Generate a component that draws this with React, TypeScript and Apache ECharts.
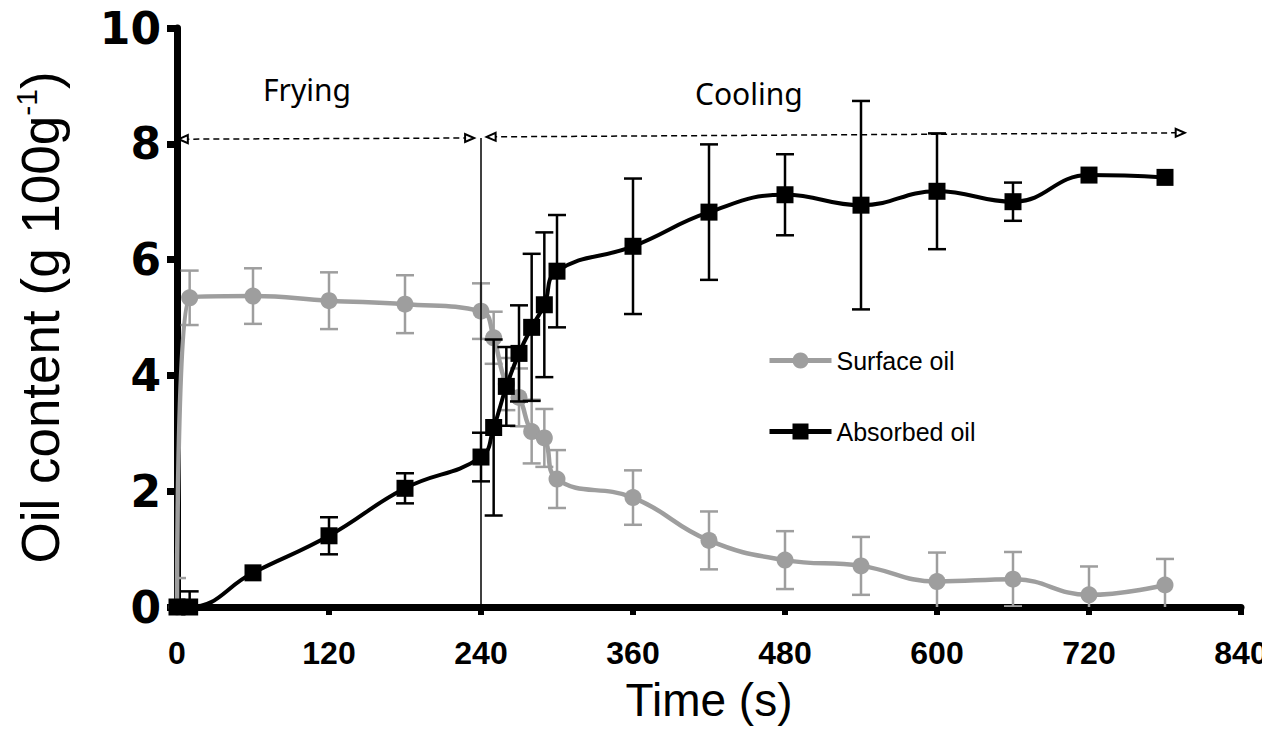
import React, { useEffect, useRef } from "react";
import * as echarts from "echarts";

// ---- data ----
const timeS = [0, 10, 60, 120, 180, 240, 250, 260, 270, 280, 290, 300, 360, 420, 480, 540, 600, 660, 720, 780];
const surfaceOil = [0, 5.34, 5.37, 5.29, 5.23, 5.11, 4.65, 3.85, 3.62, 3.03, 2.92, 2.21, 1.89, 1.15, 0.81, 0.71, 0.44, 0.48, 0.21, 0.38];
const surfaceErr = [0.5, 0.47, 0.48, 0.49, 0.5, 0.48, 0.45, 0.45, 0.5, 0.55, 0.5, 0.5, 0.47, 0.5, 0.5, 0.5, 0.5, 0.47, 0.49, 0.45];
const absorbedOil = [0, 0, 0.59, 1.23, 2.05, 2.59, 3.1, 3.81, 4.38, 4.83, 5.22, 5.8, 6.23, 6.82, 7.12, 6.94, 7.18, 7.0, 7.46, 7.42];
const absorbedErr = [0, 0.27, 0, 0.32, 0.26, 0.42, 1.52, 0.68, 0.83, 1.27, 1.25, 0.97, 1.17, 1.17, 0.7, 1.8, 1.0, 0.33, 0, 0];

const seriesNames = ["Surface oil", "Absorbed oil"];
const phaseLabels = ["Frying", "Cooling"];
const fryingEnd = 240;
// phase arrows: [startTime, startY, endTime, endY]
const fryingArrow = [5, 8.08, 231, 8.1];
const coolingArrow = [248, 8.12, 792, 8.19];

const GRAY = "#9e9e9e";
const BLACK = "#000000";

function errorData(values: number[], errs: number[]) {
  return timeS.map((t, i) => [t, values[i] - errs[i], values[i] + errs[i], errs[i]]);
}

function errorBarRender(color: string, capHalf: number, lw: number) {
  return (params: any, api: any) => {
    const e = api.value(3);
    if (!e) return { type: "group", children: [] };
    const x = api.value(0);
    const top = api.coord([x, api.value(2)]);
    const bot = api.coord([x, api.value(1)]);
    const st = { stroke: color, lineWidth: lw };
    return {
      type: "group",
      children: [
        { type: "line", shape: { x1: top[0], y1: top[1], x2: bot[0], y2: bot[1] }, style: st },
        { type: "line", shape: { x1: top[0] - capHalf, y1: top[1], x2: top[0] + capHalf, y2: top[1] }, style: st },
        { type: "line", shape: { x1: bot[0] - capHalf, y1: bot[1], x2: bot[0] + capHalf, y2: bot[1] }, style: st },
      ],
    };
  };
}

export default function App() {
  const ref = useRef<HTMLDivElement>(null);
  useEffect(() => {
    const chart = echarts.init(ref.current as HTMLDivElement, null, { renderer: "svg" });
    const option: any = {
      animation: false,
      backgroundColor: "#ffffff",
      grid: { left: 177, right: 41, top: 28, bottom: 124, containLabel: false },
      xAxis: {
        type: "value",
        min: 0,
        max: 840,
        interval: 120,
        name: "Time (s)",
        nameLocation: "middle",
        nameGap: 70,
        nameTextStyle: { fontSize: 46, fontFamily: "Liberation Sans", color: BLACK },
        axisLine: { show: true, onZero: false, lineStyle: { color: BLACK, width: 7 } },
        axisTick: { show: true, length: 8, lineStyle: { color: BLACK, width: 6 } },
        axisLabel: { fontSize: 32, fontWeight: "bold", fontFamily: "Liberation Sans", color: BLACK, margin: 30 },
        splitLine: { show: false },
      },
      yAxis: {
        type: "value",
        min: 0,
        max: 10,
        interval: 2,
        name: "Oil content (g 100g{sup|-1})",
        nameLocation: "middle",
        nameGap: 108,
        nameTextStyle: {
          fontSize: 53,
          fontFamily: "Liberation Sans",
          color: BLACK,
          lineHeight: 58,
          rich: { sup: { fontSize: 30, fontFamily: "Liberation Sans", color: BLACK, verticalAlign: "top", lineHeight: 30 } },
        },
        axisLine: { show: true, lineStyle: { color: BLACK, width: 7 } },
        axisTick: { show: true, length: 10, lineStyle: { color: BLACK, width: 7 } },
        axisLabel: { fontSize: 44, fontWeight: "bold", fontFamily: "DejaVu Sans", color: BLACK, margin: 16 },
        splitLine: { show: false },
      },
      legend: {
        data: seriesNames,
        orient: "vertical",
        left: 762,
        top: 343,
        itemGap: 46,
        itemWidth: 62,
        itemHeight: 20,
        lineStyle: { width: 5 },
        textStyle: { fontSize: 25, fontFamily: "Liberation Sans", color: BLACK, padding: [0, 0, 0, 0] },
      },
      graphic: [
        { type: "text", left: 263, top: 74, style: { text: phaseLabels[0], font: "30px 'Noto Sans'", fill: BLACK } },
        { type: "text", left: 695, top: 78, style: { text: phaseLabels[1], font: "30px 'Noto Sans'", fill: BLACK } },
        { type: "rect", shape: { x: 1262, y: 560, width: 20, height: 171 }, style: { fill: "#ffffff" }, z: 100 },
      ],
      series: [
        {
          name: "Surface oil err",
          type: "custom",
          clip: true,
          renderItem: errorBarRender(GRAY, 9, 2.5),
          data: errorData(surfaceOil, surfaceErr),
          encode: { x: 0, y: [1, 2] },
          z: 2,
        },
        {
          name: seriesNames[0],
          type: "line",
          smooth: 0.45,
          data: timeS.map((t, i) => [t, surfaceOil[i]]),
          symbol: "circle",
          symbolSize: 17,
          itemStyle: { color: GRAY },
          lineStyle: { color: GRAY, width: 4.5 },
          z: 3,
          markLine: {
            silent: true,
            animation: false,
            label: { show: false },
            symbol: ["none", "none"],
            lineStyle: { color: BLACK, width: 1.5, type: "solid" },
            data: [[{ coord: [fryingEnd, 8.1] }, { coord: [fryingEnd, 0] }]],
          },
        },
        {
          name: "arrows",
          type: "line",
          data: [],
          markLine: {
            silent: true,
            animation: false,
            label: { show: false },
            symbol: ["emptyTriangle", "emptyTriangle"],
            symbolSize: [8, 9],
            lineStyle: { color: BLACK, width: 1.5, type: [6, 4] },
            data: [
              [{ coord: [fryingArrow[0], fryingArrow[1]] }, { coord: [fryingArrow[2], fryingArrow[3]] }],
              [{ coord: [coolingArrow[0], coolingArrow[1]] }, { coord: [coolingArrow[2], coolingArrow[3]] }],
            ],
          },
        },
        {
          name: "Absorbed oil err",
          type: "custom",
          clip: true,
          renderItem: errorBarRender(BLACK, 9, 2.5),
          data: errorData(absorbedOil, absorbedErr),
          encode: { x: 0, y: [1, 2] },
          z: 4,
        },
        {
          name: seriesNames[1],
          type: "line",
          smooth: 0.45,
          data: timeS.map((t, i) => [t, absorbedOil[i]]),
          symbol: "rect",
          symbolSize: 17,
          itemStyle: { color: BLACK },
          lineStyle: { color: BLACK, width: 4 },
          z: 5,
        },
      ],
    };
    chart.setOption(option);
    return () => chart.dispose();
  }, []);
  return (
    <div
      ref={ref}
      style={{ position: "absolute", left: 0, top: 0, width: 1282, height: 731, background: "#ffffff" }}
    />
  );
}
